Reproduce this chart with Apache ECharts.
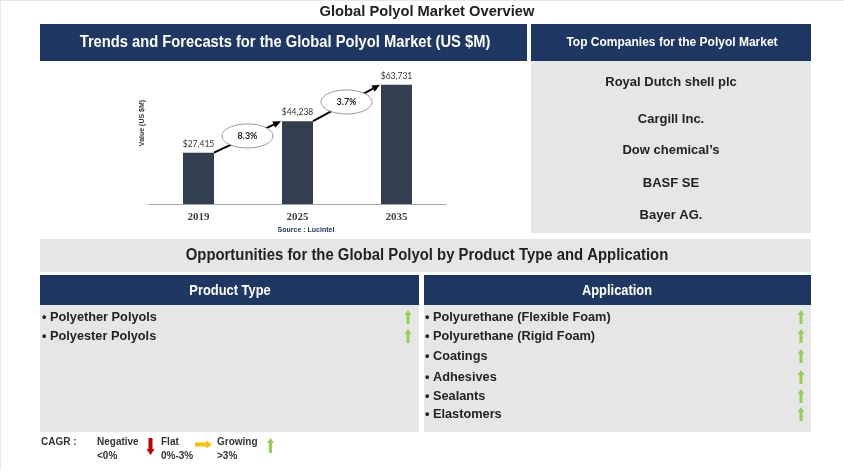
<!DOCTYPE html>
<html>
<head>
<meta charset="utf-8">
<script src="https://cdn.jsdelivr.net/npm/echarts@6/dist/echarts.min.js"></script>
<style>
  html, body { margin: 0; padding: 0; background: #fff; }
  #main { width: 844px; height: 474px; }
</style>
</head>
<body>
<div id="main"></div>
<script>
// chart data
var years = ['2019', '2025', '2035'];
var values = [27415, 44238, 63731];
var cagrLabels = ['8.3%', '3.7%'];

// side panels
var companies = ['Royal Dutch shell plc', 'Cargill Inc.', 'Dow chemical\u2019s', 'BASF SE', 'Bayer AG.'];
var productTypes = ['Polyether Polyols', 'Polyester Polyols'];
var productTrends = ['up', 'up'];
var applications = ['Polyurethane (Flexible Foam)', 'Polyurethane (Rigid Foam)', 'Coatings', 'Adhesives', 'Sealants', 'Elastomers'];
var applicationTrends = ['up', 'up', 'up', 'up', 'up', 'up'];

var NAVY = '#1f3763';
var GRAY = '#e6e6e6';
var BAR = '#333f50';
var GREEN = '#92d050';
var ARIAL = "'Liberation Sans', Arial, sans-serif";
var barWidth = 31;

// row positions (layout only)
var companyY = [82, 119, 150, 183, 215];
var productY = [317, 336];
var applicationY = [317, 336, 356, 377, 396, 414];

var myChart = echarts.init(document.getElementById('main'));

function txt(x, y, text, font, fill, align, sx) {
    return {
        type: 'text', x: x, y: y, silent: true, scaleX: sx || 1,
        style: { text: text, font: font, fill: fill, align: align || 'center', verticalAlign: 'middle' }
    };
}
function box(x, y, w, h, fill) {
    return { type: 'rect', silent: true, shape: { x: x, y: y, width: w, height: h }, style: { fill: fill } };
}
// arrow icons
function upArrow(cx, top, h, color) {
    return { type: 'polygon', silent: true, shape: { points: [
        [cx, top], [cx + 3.5, top + 5], [cx + 1.5, top + 5], [cx + 1.5, top + h],
        [cx - 1.5, top + h], [cx - 1.5, top + 5], [cx - 3.5, top + 5]
    ] }, style: { fill: color } };
}
function downArrow(cx, top, h, color) {
    var b = top + h;
    return { type: 'polygon', silent: true, shape: { points: [
        [cx, b], [cx + 4, b - 6], [cx + 2, b - 6], [cx + 2, top],
        [cx - 2, top], [cx - 2, b - 6], [cx - 4, b - 6]
    ] }, style: { fill: color } };
}
function rightArrow(left, cy, w, color) {
    var r = left + w;
    return { type: 'polygon', silent: true, shape: { points: [
        [r, cy], [r - 6, cy - 4], [r - 6, cy - 2], [left, cy - 2],
        [left, cy + 2], [r - 6, cy + 2], [r - 6, cy + 4]
    ] }, style: { fill: color } };
}
function trendIcon(trend, cx, cy) {
    if (trend === 'down') return downArrow(cx, cy - 8, 16, '#c00000');
    if (trend === 'flat') return rightArrow(cx - 8, cy, 16, '#ffc000');
    return upArrow(cx, cy - 7, 14, GREEN);
}

var yCaption = txt(142, 123, 'Value (US $M)', 'bold 7px ' + ARIAL, '#333');
yCaption.rotation = Math.PI / 2;

var elements = [
    // page frame
    { type: 'rect', silent: true, shape: { x: 0, y: 0, width: 844, height: 1 }, style: { fill: '#e8e8e8' } },
    { type: 'rect', silent: true, shape: { x: 0, y: 0, width: 1, height: 470 }, style: { fill: '#e8e8e8' } },
    txt(427, 12, 'Global Polyol Market Overview', 'bold 15px ' + ARIAL, '#222', 'center', 0.98),
    box(40, 24, 487, 37, NAVY),
    txt(285, 43, 'Trends and Forecasts for the Global Polyol Market (US $M)', 'bold 16px ' + ARIAL, '#fff', 'center', 0.92),
    box(531, 24, 280, 37, NAVY),
    txt(672, 43, 'Top Companies for the Polyol Market', 'bold 12px ' + ARIAL, '#fff'),
    box(531, 61, 280, 172, GRAY),
    yCaption,
    txt(306, 230, 'Source : Lucintel', 'bold 7px ' + ARIAL, '#1f3864'),
    box(40, 239, 771, 33, GRAY),
    txt(427, 256, 'Opportunities for the Global Polyol by Product Type and Application', 'bold 16px ' + ARIAL, '#222', 'center', 0.93),
    box(40, 275, 379, 30, NAVY),
    txt(230, 291, 'Product Type', 'bold 14px ' + ARIAL, '#fff', 'center', 0.92),
    box(424, 275, 387, 30, NAVY),
    txt(617, 291, 'Application', 'bold 14px ' + ARIAL, '#fff', 'center', 0.92),
    box(40, 305, 379, 127, GRAY),
    box(424, 305, 387, 127, GRAY),
    // legend
    txt(41, 442, 'CAGR :', 'bold 10px ' + ARIAL, '#333', 'left'),
    txt(97, 442, 'Negative', 'bold 10px ' + ARIAL, '#333', 'left'),
    txt(97, 456, '<0%', 'bold 10px ' + ARIAL, '#333', 'left'),
    downArrow(150.5, 438, 17, '#c00000'),
    txt(161, 442, 'Flat', 'bold 10px ' + ARIAL, '#333', 'left'),
    txt(161, 456, '0%-3%', 'bold 10px ' + ARIAL, '#333', 'left'),
    rightArrow(195, 444.5, 17, '#ffc000'),
    txt(217, 442, 'Growing', 'bold 10px ' + ARIAL, '#333', 'left'),
    txt(217, 456, '>3%', 'bold 10px ' + ARIAL, '#333', 'left'),
    upArrow(270.5, 438, 15, GREEN)
];

companies.forEach(function (c, i) {
    elements.push(txt(671, companyY[i], c, 'bold 13px ' + ARIAL, '#222'));
});
productTypes.forEach(function (p, i) {
    elements.push(txt(42, productY[i], '\u2022 ' + p, 'bold 13px ' + ARIAL, '#222', 'left', 0.98));
    elements.push(trendIcon(productTrends[i], 408, productY[i]));
});
applications.forEach(function (a, i) {
    elements.push(txt(425, applicationY[i], '\u2022 ' + a, 'bold 13px ' + ARIAL, '#222', 'left', 0.98));
    elements.push(trendIcon(applicationTrends[i], 801, applicationY[i]));
});

// growth arrows between bars, with CAGR ellipse
var growthData = cagrLabels.map(function (lab, i) {
    return [i, values[i], values[i + 1], lab];
});

function renderGrowth(params, api) {
    var i = api.value(0);
    var p0 = api.coord([i, api.value(1)]);
    var p1 = api.coord([i + 1, api.value(2)]);
    var x0 = p0[0] + barWidth / 2, y0 = p0[1];
    var x1 = p1[0] - barWidth / 2 - 1, y1 = p1[1];
    var ang = Math.atan2(y1 - y0, x1 - x0);
    var hl = 8, hw = 3.5;
    var bx = x1 - hl * Math.cos(ang), by = y1 - hl * Math.sin(ang);
    var nx = -Math.sin(ang), ny = Math.cos(ang);
    var cx = (x0 + x1) / 2, cy = (y0 + y1) / 2 - 1;
    return {
        type: 'group',
        children: [
            { type: 'line', shape: { x1: x0, y1: y0, x2: bx, y2: by }, style: { stroke: '#000', lineWidth: 2 } },
            { type: 'polygon', shape: { points: [[x1, y1], [bx + nx * hw, by + ny * hw], [bx - nx * hw, by - ny * hw]] }, style: { fill: '#000' } },
            { type: 'ellipse', shape: { cx: cx, cy: cy, rx: 25.5, ry: 12 }, style: { fill: '#fff', stroke: '#7f7f7f', lineWidth: 0.8 } },
            { type: 'text', x: cx, y: cy, style: { text: api.value(3), font: "bold 9px 'Lato', 'Liberation Sans', sans-serif", fill: '#222', align: 'center', verticalAlign: 'middle' } }
        ]
    };
}

myChart.setOption({
    animation: false,
    backgroundColor: '#fff',
    graphic: { elements: elements },
    grid: { left: 149, right: 398, top: 73, bottom: 270 },
    xAxis: {
        type: 'category',
        data: years,
        axisLine: { lineStyle: { color: '#a6a6a6', width: 1 } },
        axisTick: { show: false },
        axisLabel: { margin: 8, fontFamily: "'Liberation Serif', serif", fontWeight: 'bold', fontSize: 11, color: '#404040' }
    },
    yAxis: {
        type: 'value', min: 0, max: 70000, show: false
    },
    series: [
        {
            type: 'bar',
            data: values,
            barWidth: barWidth,
            itemStyle: { color: BAR },
            label: {
                show: true, position: 'top', distance: 4,
                fontFamily: "'Lato', 'Liberation Sans', sans-serif", fontSize: 8.5, color: '#333',
                formatter: function (p) { return '$' + p.value.toLocaleString('en-US'); }
            },
            z: 2
        },
        {
            type: 'custom',
            data: growthData,
            encode: { x: 0, y: 1 },
            renderItem: renderGrowth,
            silent: true,
            z: 3
        }
    ]
});
</script>
</body>
</html>
